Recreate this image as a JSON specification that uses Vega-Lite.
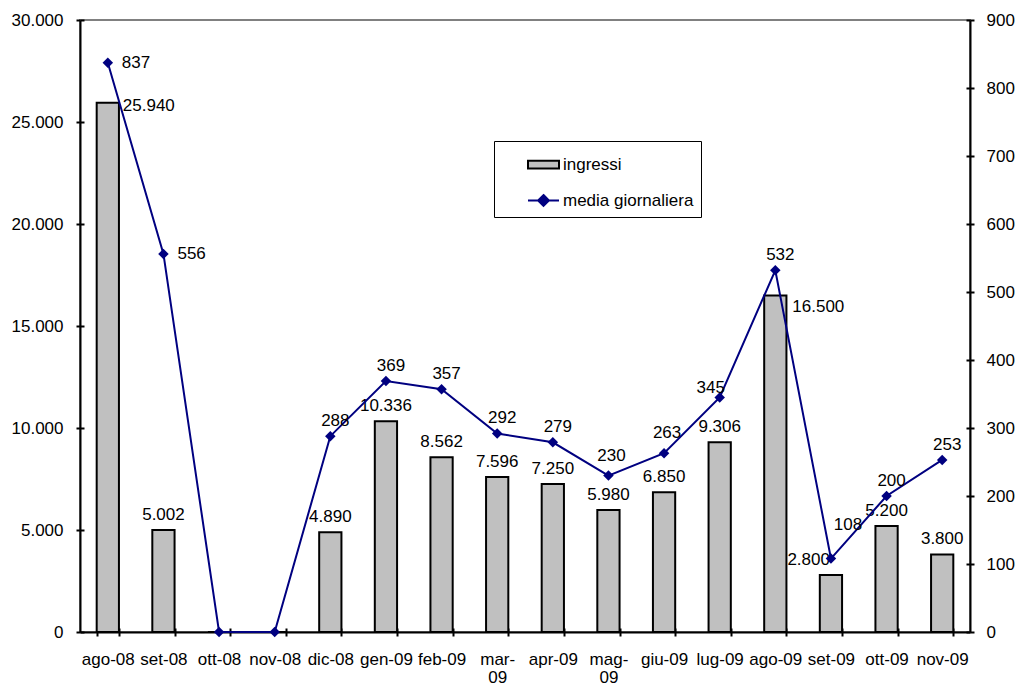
{
  "$schema": "https://vega.github.io/schema/vega-lite/v6.json",
  "width": 890,
  "height": 612,
  "autosize": {"type": "none"},
  "padding": {"left": 80, "top": 20, "right": 48, "bottom": 53},
  "background": "white",
  "config": {
    "font": "Liberation Sans",
    "view": {"stroke": "#808080", "strokeWidth": 2},
    "locale": {"number": {"decimal": ",", "thousands": ".", "grouping": [3], "currency": ["", " €"]}},
    "text": {"font": "Liberation Sans", "fontSize": 17, "color": "black"},
    "legend": {"orient": "none", "legendX": 414, "legendY": 121, "padding": 7, "rowPadding": 11, "strokeColor": "black",
      "labelFont": "Liberation Sans", "labelFontSize": 17, "labelColor": "black", "labelOffset": 3, "symbolOffset": 26,
      "symbolSize": 961, "symbolStrokeWidth": 2, "symbolOpacity": 1}
  },
  "data": {"values": [
    {"mese": "ago-08", "ingressi": 25940, "media": 837},
    {"mese": "set-08", "ingressi": 5002, "media": 556},
    {"mese": "ott-08", "ingressi": 0, "media": 0},
    {"mese": "nov-08", "ingressi": 0, "media": 0},
    {"mese": "dic-08", "ingressi": 4890, "media": 288},
    {"mese": "gen-09", "ingressi": 10336, "media": 369},
    {"mese": "feb-09", "ingressi": 8562, "media": 357},
    {"mese": "mar-09", "ingressi": 7596, "media": 292},
    {"mese": "apr-09", "ingressi": 7250, "media": 279},
    {"mese": "mag-09", "ingressi": 5980, "media": 230},
    {"mese": "giu-09", "ingressi": 6850, "media": 263},
    {"mese": "lug-09", "ingressi": 9306, "media": 345},
    {"mese": "ago-09", "ingressi": 16500, "media": 532},
    {"mese": "set-09", "ingressi": 2800, "media": 108},
    {"mese": "ott-09", "ingressi": 5200, "media": 200},
    {"mese": "nov-09", "ingressi": 3800, "media": 253}
  ]},
  "layer": [
    {
      "mark": {"type": "bar", "strokeWidth": 2},
      "encoding": {
        "x": {"field": "mese", "type": "nominal",
          "scale": {"domain": ["ago-08","set-08","ott-08","nov-08","dic-08","gen-09","feb-09","mar-09","apr-09","mag-09","giu-09","lug-09","ago-09","set-09","ott-09","nov-09"], "paddingInner": 0.6, "paddingOuter": 0.3},
          "axis": {"orient": "bottom", "title": null, "tickBand": "extent", "labelAngle": 0, "labelOverlap": false, "labelBound": false, "labelFlush": false,
            "labelExpr": "datum.label == 'mar-09' || datum.label == 'mag-09' ? [substring(datum.label,0,4), substring(datum.label,4)] : datum.label",
            "labelFont": "Liberation Sans", "labelFontSize": 17, "labelColor": "black", "labelPadding": 15, "labelLineHeight": 18,
            "domainColor": "black", "domainWidth": 2, "tickColor": "black", "tickWidth": 2, "tickSize": 4, "grid": false}},
        "y": {"field": "ingressi", "type": "quantitative",
          "scale": {"domain": [0, 30000], "nice": false},
          "axis": {"orient": "left", "title": null, "values": [0,5000,10000,15000,20000,25000,30000], "format": ",d",
            "labelFont": "Liberation Sans", "labelFontSize": 17, "labelColor": "black", "labelPadding": 13,
            "domainColor": "black", "domainWidth": 2, "tickColor": "black", "tickWidth": 2, "tickSize": 4, "grid": false}},
        "fill": {"datum": "ingressi", "type": "nominal",
          "scale": {"domain": ["ingressi", "media giornaliera"], "range": ["#C0C0C0", "#000080"]},
          "legend": {"title": null, "encode": {"legend": {"strokeWidth": {"value": 2}, "fill": {"value": "white"}}}}},
        "stroke": {"datum": "ingressi", "type": "nominal",
          "scale": {"domain": ["ingressi", "media giornaliera"], "range": ["#000000", "#000080"]},
          "legend": {"title": null}}
      }
    },
    {
      "transform": [{"filter": "datum.ingressi > 0 && indexof(['ago-08','ago-09','set-09'], datum.mese) < 0"}],
      "mark": {"type": "text", "baseline": "middle", "align": "center", "dy": -15},
      "encoding": {
        "x": {"field": "mese", "type": "nominal", "axis": null},
        "y": {"field": "ingressi", "type": "quantitative", "scale": {"domain": [0, 30000], "nice": false},
          "axis": {"orient": "left", "offset": -4, "title": null, "values": [0,5000,10000,15000,20000,25000,30000], "labels": false, "domain": false,
            "tickColor": "black", "tickWidth": 2, "tickSize": 4, "grid": false}},
        "text": {"field": "ingressi", "type": "quantitative", "format": ",d"}
      }
    },
    {
      "transform": [{"filter": {"field": "mese", "oneOf": ["ago-08"]}}],
      "mark": {"type": "text", "baseline": "middle", "align": "left", "dx": 15, "dy": 3},
      "encoding": {
        "x": {"field": "mese", "type": "nominal", "axis": null},
        "y": {"field": "ingressi", "type": "quantitative", "scale": {"domain": [0, 30000], "nice": false}, "axis": null},
        "text": {"field": "ingressi", "type": "quantitative", "format": ",d"}
      }
    },
    {
      "transform": [{"filter": {"field": "mese", "oneOf": ["ago-09"]}}],
      "mark": {"type": "text", "baseline": "middle", "align": "left", "dx": 17, "dy": 12},
      "encoding": {
        "x": {"field": "mese", "type": "nominal", "axis": null},
        "y": {"field": "ingressi", "type": "quantitative", "scale": {"domain": [0, 30000], "nice": false}, "axis": null},
        "text": {"field": "ingressi", "type": "quantitative", "format": ",d"}
      }
    },
    {
      "transform": [{"filter": {"field": "mese", "oneOf": ["set-09"]}}],
      "mark": {"type": "text", "baseline": "middle", "align": "right", "dx": -1, "dy": -15},
      "encoding": {
        "x": {"field": "mese", "type": "nominal", "axis": null},
        "y": {"field": "ingressi", "type": "quantitative", "scale": {"domain": [0, 30000], "nice": false}, "axis": null},
        "text": {"field": "ingressi", "type": "quantitative", "format": ",d"}
      }
    },
    {
      "mark": {"type": "line", "strokeWidth": 2},
      "encoding": {
        "x": {"field": "mese", "type": "nominal",
          "axis": {"orient": "bottom", "offset": -4, "title": null, "tickBand": "extent", "labels": false, "domain": false,
            "tickColor": "black", "tickWidth": 2, "tickSize": 4, "grid": false}},
        "y": {"field": "media", "type": "quantitative",
          "scale": {"domain": [0, 900], "nice": false},
          "axis": {"orient": "right", "title": null, "values": [0,100,200,300,400,500,600,700,800,900], "format": "d",
            "labelFont": "Liberation Sans", "labelFontSize": 17, "labelColor": "black", "labelPadding": 12,
            "domainColor": "black", "domainWidth": 2, "tickColor": "black", "tickWidth": 2, "tickSize": 4, "grid": false}},
        "stroke": {"datum": "media giornaliera", "type": "nominal"}
      }
    },
    {
      "mark": {"type": "point", "shape": "diamond", "filled": true, "size": 110, "opacity": 1, "strokeWidth": 0},
      "encoding": {
        "x": {"field": "mese", "type": "nominal", "axis": null},
        "y": {"field": "media", "type": "quantitative", "scale": {"domain": [0, 900], "nice": false},
          "axis": {"orient": "right", "offset": -4, "title": null, "values": [0,100,200,300,400,500,600,700,800,900], "labels": false, "domain": false,
            "tickColor": "black", "tickWidth": 2, "tickSize": 4, "grid": false}},
        "fill": {"datum": "media giornaliera", "type": "nominal"}
      }
    },
    {
      "transform": [{"filter": {"field": "mese", "oneOf": ["ago-08"]}}],
      "mark": {"type": "point", "filled": true, "opacity": 0},
      "encoding": {
        "x": {"field": "mese", "type": "nominal", "axis": null},
        "y": {"field": "media", "type": "quantitative", "scale": {"domain": [0, 900], "nice": false}, "axis": null},
        "shape": {"datum": "media giornaliera", "type": "nominal",
          "scale": {"domain": ["ingressi", "media giornaliera"], "range": ["M-1,-0.25H1V0.25H-1Z", "M-1,0H1M0,-0.35L0.35,0L0,0.35L-0.35,0Z"]},
          "legend": {"title": null}}
      }
    },
    {
      "transform": [{"filter": "datum.media > 0 && indexof(['ago-08','set-08','set-09','giu-09','mag-09','lug-09'], datum.mese) < 0"}],
      "mark": {"type": "text", "baseline": "middle", "align": "center", "dx": 5, "dy": -15},
      "encoding": {
        "x": {"field": "mese", "type": "nominal", "axis": null},
        "y": {"field": "media", "type": "quantitative", "scale": {"domain": [0, 900], "nice": false}, "axis": null},
        "text": {"field": "media", "type": "quantitative", "format": "d"}
      }
    },
    {
      "transform": [{"filter": {"field": "mese", "oneOf": ["giu-09", "mag-09"]}}],
      "mark": {"type": "text", "baseline": "middle", "align": "center", "dx": 3, "dy": -20},
      "encoding": {
        "x": {"field": "mese", "type": "nominal", "axis": null},
        "y": {"field": "media", "type": "quantitative", "scale": {"domain": [0, 900], "nice": false}, "axis": null},
        "text": {"field": "media", "type": "quantitative", "format": "d"}
      }
    },
    {
      "transform": [{"filter": {"field": "mese", "oneOf": ["lug-09"]}}],
      "mark": {"type": "text", "baseline": "middle", "align": "center", "dx": -9, "dy": -9},
      "encoding": {
        "x": {"field": "mese", "type": "nominal", "axis": null},
        "y": {"field": "media", "type": "quantitative", "scale": {"domain": [0, 900], "nice": false}, "axis": null},
        "text": {"field": "media", "type": "quantitative", "format": "d"}
      }
    },
    {
      "transform": [{"filter": {"field": "mese", "oneOf": ["ago-08", "set-08"]}}],
      "mark": {"type": "text", "baseline": "middle", "align": "left", "dx": 14, "dy": 0},
      "encoding": {
        "x": {"field": "mese", "type": "nominal", "axis": null},
        "y": {"field": "media", "type": "quantitative", "scale": {"domain": [0, 900], "nice": false}, "axis": null},
        "text": {"field": "media", "type": "quantitative", "format": "d"}
      }
    },
    {
      "transform": [{"filter": {"field": "mese", "oneOf": ["set-09"]}}],
      "mark": {"type": "text", "baseline": "middle", "align": "center", "dx": 17, "dy": -34},
      "encoding": {
        "x": {"field": "mese", "type": "nominal", "axis": null},
        "y": {"field": "media", "type": "quantitative", "scale": {"domain": [0, 900], "nice": false}, "axis": null},
        "text": {"field": "media", "type": "quantitative", "format": "d"}
      }
    }
  ],
  "resolve": {"scale": {"y": "independent"}, "axis": {"x": "independent"}}
}
